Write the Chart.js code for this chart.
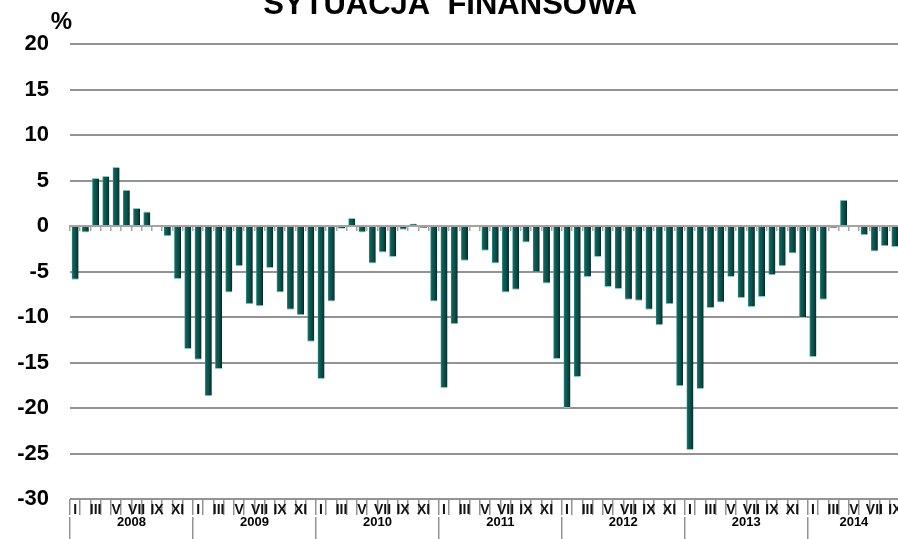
<!DOCTYPE html>
<html>
<head>
<meta charset="utf-8">
<title>Sytuacja finansowa</title>
<script src="https://cdn.jsdelivr.net/npm/chart.js@4.4.0/dist/chart.umd.min.js"></script>
<style>
    html, body { margin: 0; padding: 0; background: #fff; }
    #frame { position: relative; width: 898px; height: 539px; overflow: hidden; }
    #box { position: absolute; left: 0; top: -13px; width: 910px; height: 552px; }
</style>
</head>
<body>
<div id="frame"><div id="box"><canvas id="chart"></canvas></div></div>
<script>
const FONT = "'Liberation Sans', Arial, sans-serif";

const years = ['2008', '2009', '2010', '2011', '2012', '2013', '2014'];
const months = ['I', '', 'III', '', 'V', '', 'VII', '', 'IX', '', 'XI', ''];
const yTicks = [20, 15, 10, 5, 0, -5, -10, -15, -20, -25, -30];

// monthly balance, %
const v2008 = [-5.9, -0.7, 5.3, 5.5, 6.5, 4.0, 2.0, 1.6, 0.0, -1.1, -5.8, -13.5];
const v2009 = [-14.7, -18.7, -15.7, -7.3, -4.4, -8.6, -8.8, -4.6, -7.3, -9.2, -9.8, -12.7];
const v2010 = [-16.8, -8.3, -0.3, 0.9, -0.7, -4.1, -2.9, -3.4, -0.4, 0.3, -0.2, -8.3];
const v2011 = [-17.8, -10.8, -3.8, -0.1, -2.7, -4.1, -7.3, -7.0, -1.8, -5.1, -6.3, -14.6];
const v2012 = [-20.0, -16.6, -5.6, -3.4, -6.7, -6.9, -8.1, -8.2, -9.2, -10.9, -8.6, -17.6];
const v2013 = [-24.6, -17.9, -9.0, -8.4, -5.6, -7.9, -8.9, -7.8, -5.4, -4.4, -3.0, -10.1];
const v2014 = [-14.4, -8.1, -0.2, 2.9, -0.1, -1.0, -2.8, -2.2, -2.3];

const yearData = [v2008, v2009, v2010, v2011, v2012, v2013, v2014];
const values = [].concat(...yearData);
const labels = [];
yearData.forEach((arr, i) => arr.forEach((v, m) => labels.push(years[i] + '-' + (m + 1))));

// year row works on half-month steps: separators on year bounds,
// captions in the middle of each year
const halfSteps = [];
const yearBounds = {};
const yearCaptions = {};
let pos = 0;
yearData.forEach((arr, i) => {
    yearBounds[pos] = true;
    yearCaptions[pos + arr.length] = years[i];
    pos += arr.length * 2;
});
yearBounds[pos] = true;
for (let i = 0; i <= pos; i++) {
    halfSteps.push(String(i));
}

const BAR_PCT = 0.68;
const GRID = '#939393';

function barFill(c) {
    const chart = c.chart;
    const sx = chart.scales.x;
    if (!chart.chartArea || !sx || c.dataIndex === undefined) {
        return '#0a4f4a';
    }
    const cx = sx.getPixelForValue(c.dataIndex);
    const half = sx.width / labels.length * BAR_PCT / 2;
    const g = chart.ctx.createLinearGradient(cx - half, 0, cx + half, 0);
    g.addColorStop(0, '#3d958c');
    g.addColorStop(0.22, '#0f5f59');
    g.addColorStop(0.6, '#0a4e49');
    g.addColorStop(0.85, '#063935');
    g.addColorStop(1, '#021e1c');
    return g;
}

const percentSign = {
    id: 'percentSign',
    afterDraw(chart) {
        const {ctx, chartArea} = chart;
        ctx.save();
        ctx.font = 'bold 24px ' + FONT;
        ctx.fillStyle = '#000';
        ctx.textAlign = 'center';
        ctx.textBaseline = 'middle';
        ctx.fillText('%', chartArea.left - 8.5, chartArea.top - 22);
        ctx.restore();
    }
};

const ctx = document.getElementById('chart').getContext('2d');
const chart = new Chart(ctx, {
    type: 'bar',
    data: {
        labels: labels,
        datasets: [{
            data: values,
            backgroundColor: barFill,
            borderColor: '#86cac1',
            borderWidth: {top: 1, bottom: 1, left: 0, right: 0},
            borderSkipped: 'start',
            categoryPercentage: 1,
            barPercentage: BAR_PCT,
            xAxisID: 'x',
            yAxisID: 'y'
        }]
    },
    options: {
        responsive: true,
        maintainAspectRatio: false,
        animation: false,
        layout: {padding: {left: 0, right: 10, top: 0, bottom: 0}},
        plugins: {
            legend: {display: false},
            tooltip: {enabled: false},
            title: {
                display: true,
                text: 'SYTUACJA  FINANSOWA',
                color: '#000',
                font: {family: FONT, size: 31, weight: 'bold'},
                padding: {top: 0, bottom: 20}
            }
        },
        scales: {
            y: {
                min: -30,
                max: 20,
                afterFit: s => { s.width = 70; },
                afterBuildTicks: s => { s.ticks = yTicks.map(v => ({value: v})); },
                border: {display: false},
                grid: {color: GRID, lineWidth: 2, drawTicks: false},
                ticks: {
                    color: '#000',
                    padding: 21,
                    font: {family: FONT, size: 22, weight: 'bold'}
                }
            },
            x: {
                type: 'category',
                position: 'bottom',
                weight: 0,
                offset: true,
                afterFit: s => { s.height = 18; },
                border: {display: false},
                grid: {offset: true, drawOnChartArea: false, color: GRID, lineWidth: 1.5, tickLength: 16},
                ticks: {
                    autoSkip: false,
                    maxRotation: 0,
                    minRotation: 0,
                    padding: -13,
                    color: '#111',
                    font: {family: FONT, size: 14, weight: 'bold'},
                    callback: (v, i) => months[i % 12]
                }
            },
            x2: {
                type: 'category',
                labels: halfSteps,
                position: 'bottom',
                weight: 1,
                offset: false,
                afterFit: s => { s.height = 22; },
                border: {display: false},
                grid: {
                    offset: false,
                    drawOnChartArea: false,
                    lineWidth: 1.5,
                    tickLength: 22,
                    color: c => yearBounds[c.index] ? GRID : 'rgba(0,0,0,0)'
                },
                ticks: {
                    autoSkip: false,
                    maxRotation: 0,
                    minRotation: 0,
                    padding: -24,
                    color: '#000',
                    font: {family: FONT, size: 13, weight: 'bold'},
                    callback: (v, i) => yearCaptions[i] || ''
                }
            },
            x0: {
                type: 'category',
                position: {y: 0},
                offset: true,
                border: {display: true, color: '#a3a3a3', width: 2},
                grid: {offset: true, drawOnChartArea: false, color: '#a3a3a3', lineWidth: 1.5, tickLength: 4},
                ticks: {display: false}
            }
        }
    },
    plugins: [percentSign]
});
</script>
</body>
</html>
